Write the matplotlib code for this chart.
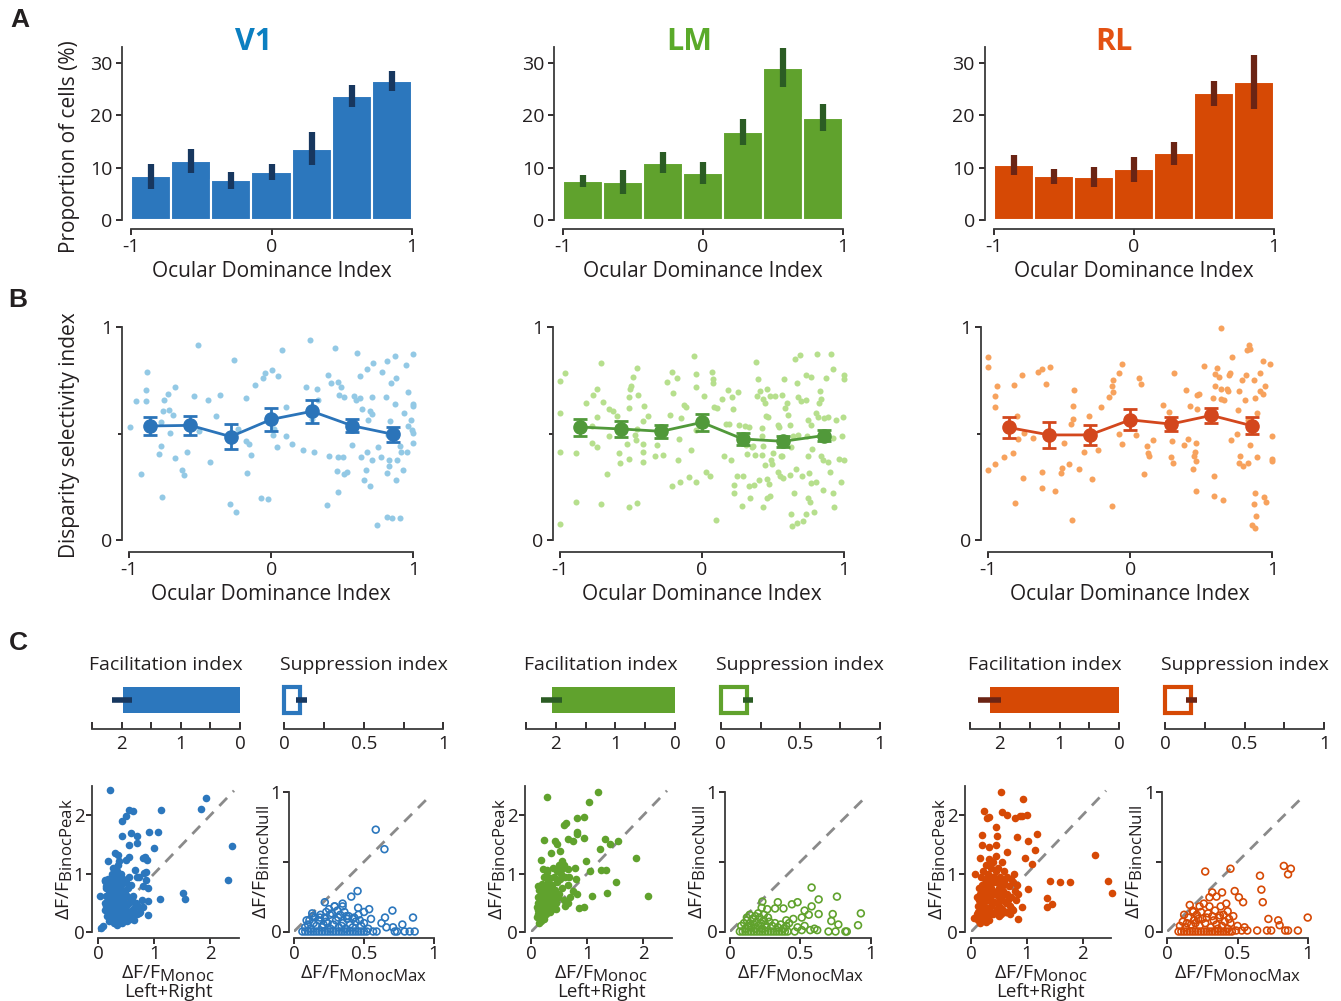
import numpy as np
import matplotlib
matplotlib.use('Agg')
import matplotlib.pyplot as plt
import matplotlib._mathtext as mathtext_internal

# subscripts in the figure are nearly full size
mathtext_internal.SHRINK_FACTOR = 0.86

plt.rcParams['font.family'] = ['Open Sans', 'DejaVu Sans']
plt.rcParams['mathtext.fontset'] = 'custom'
plt.rcParams['mathtext.rm'] = 'Open Sans'
plt.rcParams['mathtext.it'] = 'Open Sans:italic'
plt.rcParams['axes.unicode_minus'] = False
TXT = '#231f20'
plt.rcParams['text.color'] = TXT
plt.rcParams['axes.labelcolor'] = TXT
plt.rcParams['xtick.color'] = TXT
plt.rcParams['ytick.color'] = TXT
plt.rcParams['axes.edgecolor'] = '#3a3a3a'

# ---------------- data ----------------
areas = ['V1', 'LM', 'RL']
odi_centers = [-0.857, -0.571, -0.286, 0.0, 0.286, 0.571, 0.857]

# A: proportion of cells (%) per ODI bin, with error bar low/high
prop_v1 = [8.3, 11.2, 7.6, 9.1, 13.5, 23.6, 26.6]
prop_v1_lo = [6.0, 9.0, 6.0, 7.7, 10.4, 21.6, 24.7]
prop_v1_hi = [10.6, 13.5, 9.2, 10.6, 16.7, 25.7, 28.5]
prop_lm = [7.4, 7.2, 10.9, 8.9, 16.8, 29.0, 19.5]
prop_lm_lo = [6.2, 4.9, 9.0, 6.8, 14.4, 25.3, 17.0]
prop_lm_hi = [8.6, 9.6, 12.9, 11.0, 19.2, 32.8, 22.1]
prop_rl = [10.5, 8.4, 8.2, 9.7, 12.7, 24.2, 26.3]
prop_rl_lo = [8.6, 6.8, 6.3, 7.2, 10.5, 21.7, 21.2]
prop_rl_hi = [12.4, 9.8, 10.1, 12.1, 14.8, 26.5, 31.4]

# B: disparity selectivity index, binned means +- sem
dsi_mean_v1 = [0.536, 0.539, 0.486, 0.567, 0.605, 0.537, 0.497]
dsi_sem_v1 = [0.043, 0.045, 0.06, 0.055, 0.055, 0.03, 0.034]
dsi_mean_lm = [0.531, 0.522, 0.511, 0.553, 0.475, 0.464, 0.491]
dsi_sem_lm = [0.04, 0.038, 0.03, 0.04, 0.027, 0.026, 0.025]
dsi_mean_rl = [0.529, 0.494, 0.494, 0.565, 0.545, 0.586, 0.537]
dsi_sem_rl = [0.049, 0.06, 0.048, 0.049, 0.034, 0.035, 0.04]

# B: single cells (ODI, DSI)
cells_v1 = [
    (-0.995, 0.53), (-0.953, 0.653), (-0.873, 0.789), (-0.883, 0.703), (-0.883, 0.652), (-0.918, 0.309),
    (-0.777, 0.555), (-0.761, 0.605), (-0.768, 0.203), (-0.789, 0.405), (-0.775, 0.442), (-0.754, 0.656),
    (-0.725, 0.688), (-0.718, 0.609), (-0.711, 0.503), (-0.692, 0.586), (-0.676, 0.719), (-0.678, 0.384),
    (-0.631, 0.331), (-0.617, 0.305), (-0.592, 0.413), (-0.545, 0.675), (-0.519, 0.919), (-0.509, 0.511),
    (-0.444, 0.656), (-0.432, 0.369), (-0.392, 0.581), (-0.359, 0.684), (-0.289, 0.169), (-0.251, 0.131),
    (-0.265, 0.848), (-0.237, 0.523), (-0.181, 0.667), (-0.176, 0.466), (-0.155, 0.45), (-0.141, 0.4),
    (-0.171, 0.316), (-0.117, 0.727), (-0.073, 0.198), (-0.026, 0.194), (-0.061, 0.763), (-0.047, 0.784),
    (0.002, 0.8), (0.049, 0.769), (0.073, 0.894), (0.009, 0.492), (0.021, 0.523), (0.04, 0.436),
    (0.103, 0.625), (0.101, 0.488), (0.143, 0.453), (0.225, 0.425), (0.244, 0.72), (0.272, 0.938),
    (0.289, 0.57), (0.303, 0.414), (0.324, 0.708), (0.331, 0.656), (0.397, 0.775), (0.418, 0.736),
    (0.446, 0.902), (0.467, 0.745), (0.493, 0.72), (0.477, 0.684), (0.404, 0.395), (0.39, 0.166),
    (0.462, 0.323), (0.467, 0.225), (0.467, 0.389), (0.502, 0.388), (0.514, 0.308), (0.531, 0.319),
    (0.514, 0.67), (0.545, 0.534), (0.566, 0.445), (0.582, 0.678), (0.596, 0.656), (0.606, 0.877),
    (0.622, 0.769), (0.622, 0.667), (0.631, 0.388), (0.641, 0.614), (0.653, 0.281), (0.669, 0.328),
    (0.674, 0.414), (0.678, 0.566), (0.671, 0.806), (0.697, 0.253), (0.695, 0.605), (0.707, 0.672),
    (0.709, 0.375), (0.709, 0.594), (0.714, 0.834), (0.746, 0.07), (0.754, 0.438), (0.772, 0.391),
    (0.782, 0.789), (0.805, 0.672), (0.812, 0.842), (0.812, 0.317), (0.812, 0.109), (0.819, 0.492),
    (0.831, 0.375), (0.831, 0.348), (0.836, 0.559), (0.84, 0.739), (0.847, 0.102), (0.869, 0.866),
    (0.873, 0.641), (0.878, 0.763), (0.876, 0.28), (0.887, 0.378), (0.904, 0.441), (0.906, 0.103),
    (0.913, 0.414), (0.93, 0.331), (0.937, 0.595), (0.951, 0.823), (0.958, 0.414), (0.962, 0.695),
    (0.965, 0.536), (0.981, 0.566), (0.988, 0.516), (0.995, 0.458), (1.0, 0.873), (1.0, 0.641),
    (1.0, 0.628), (1.0, 0.503),
]
cells_lm = [
    (-1.0, 0.747), (-0.965, 0.786), (-1.0, 0.597), (-1.0, 0.412), (-1.0, 0.075), (-0.887, 0.409),
    (-0.887, 0.178), (-0.714, 0.833), (-0.742, 0.711), (-0.77, 0.684), (-0.819, 0.645), (-0.777, 0.538),
    (-0.777, 0.456), (-0.737, 0.436), (-0.737, 0.579), (-0.7, 0.648), (-0.714, 0.17), (-0.671, 0.311),
    (-0.657, 0.618), (-0.624, 0.605), (-0.596, 0.585), (-0.653, 0.491), (-0.582, 0.409), (-0.577, 0.362),
    (-0.526, 0.453), (-0.514, 0.382), (-0.512, 0.157), (-0.458, 0.173), (-0.512, 0.621), (-0.512, 0.673),
    (-0.507, 0.711), (-0.502, 0.723), (-0.484, 0.766), (-0.455, 0.81), (-0.448, 0.684), (-0.469, 0.495),
    (-0.465, 0.469), (-0.46, 0.522), (-0.413, 0.451), (-0.413, 0.412), (-0.413, 0.369), (-0.418, 0.561),
    (-0.411, 0.632), (-0.383, 0.582), (-0.331, 0.393), (-0.319, 0.448), (-0.272, 0.398), (-0.249, 0.742),
    (-0.211, 0.789), (-0.174, 0.763), (-0.202, 0.689), (-0.225, 0.59), (-0.214, 0.256), (-0.155, 0.275),
    (-0.171, 0.377), (-0.15, 0.574), (-0.16, 0.475), (-0.127, 0.637), (-0.115, 0.626), (-0.077, 0.425),
    (-0.089, 0.294), (-0.054, 0.865), (-0.045, 0.781), (-0.045, 0.72), (-0.045, 0.275), (-0.045, 0.516),
    (0.014, 0.679), (0.068, 0.791), (0.077, 0.755), (0.077, 0.736), (0.026, 0.318), (0.056, 0.299),
    (0.096, 0.094), (0.087, 0.624), (0.103, 0.621), (0.138, 0.664), (0.181, 0.703), (0.214, 0.673),
    (0.251, 0.697), (0.216, 0.616), (0.169, 0.547), (0.192, 0.547), (0.155, 0.393), (0.202, 0.374),
    (0.228, 0.259), (0.228, 0.223), (0.244, 0.303), (0.286, 0.303), (0.279, 0.162), (0.263, 0.542),
    (0.303, 0.535), (0.333, 0.531), (0.315, 0.406), (0.333, 0.255), (0.338, 0.197), (0.369, 0.259),
    (0.38, 0.838), (0.392, 0.758), (0.385, 0.676), (0.408, 0.7), (0.427, 0.664), (0.444, 0.642),
    (0.46, 0.712), (0.479, 0.679), (0.451, 0.585), (0.467, 0.579), (0.42, 0.527), (0.42, 0.487),
    (0.427, 0.44), (0.42, 0.401), (0.444, 0.354), (0.404, 0.283), (0.455, 0.286), (0.474, 0.264),
    (0.486, 0.377), (0.502, 0.409), (0.495, 0.357), (0.455, 0.197), (0.479, 0.208), (0.427, 0.153),
    (0.514, 0.676), (0.561, 0.684), (0.577, 0.755), (0.596, 0.642), (0.585, 0.621), (0.608, 0.59),
    (0.538, 0.542), (0.545, 0.531), (0.62, 0.542), (0.554, 0.393), (0.538, 0.322), (0.549, 0.299),
    (0.62, 0.307), (0.662, 0.333), (0.65, 0.223), (0.627, 0.123), (0.636, 0.066), (0.667, 0.079),
    (0.709, 0.091), (0.732, 0.121), (0.789, 0.13), (0.749, 0.197), (0.761, 0.178), (0.704, 0.302),
    (0.754, 0.314), (0.765, 0.267), (0.803, 0.275), (0.85, 0.236), (0.92, 0.223), (0.93, 0.154),
    (0.901, 0.322), (0.977, 0.275), (0.655, 0.849), (0.69, 0.868), (0.808, 0.873), (0.906, 0.873),
    (0.92, 0.805), (0.873, 0.763), (0.732, 0.778), (0.765, 0.767), (0.671, 0.736), (0.678, 0.673),
    (0.695, 0.653), (0.732, 0.657), (0.831, 0.7), (0.836, 0.664), (0.826, 0.645), (0.803, 0.597),
    (0.819, 0.579), (0.859, 0.574), (0.89, 0.579), (0.944, 0.563), (0.995, 0.579), (1.0, 0.778),
    (1.0, 0.755), (0.749, 0.566), (0.765, 0.542), (0.737, 0.487), (0.772, 0.428), (0.749, 0.393),
    (0.836, 0.396), (0.854, 0.374), (0.89, 0.369), (0.967, 0.381), (1.0, 0.377), (0.984, 0.487),
    (0.92, 0.48), (0.678, 0.495), (0.638, 0.487), (0.627, 0.437), (0.561, 0.393), (0.35, 0.437),
    (0.373, 0.401), (0.362, 0.44), (0.31, 0.448), (0.573, 0.291),
]
cells_rl = [
    (-1.0, 0.86), (-1.0, 0.812), (-1.0, 0.328), (-0.951, 0.675), (-0.951, 0.623), (-0.951, 0.356),
    (-0.937, 0.724), (-0.892, 0.388), (-0.822, 0.728), (-0.815, 0.173), (-0.8, 0.584), (-0.793, 0.474),
    (-0.829, 0.407), (-0.763, 0.777), (-0.758, 0.29), (-0.749, 0.502), (-0.683, 0.479), (-0.653, 0.788),
    (-0.62, 0.804), (-0.563, 0.813), (-0.594, 0.733), (-0.622, 0.319), (-0.62, 0.243), (-0.531, 0.232),
    (-0.491, 0.316), (-0.479, 0.338), (-0.465, 0.458), (-0.43, 0.358), (-0.411, 0.096), (-0.404, 0.631),
    (-0.399, 0.703), (-0.406, 0.568), (-0.42, 0.546), (-0.359, 0.333), (-0.326, 0.414), (-0.291, 0.584),
    (-0.272, 0.289), (-0.225, 0.424), (-0.204, 0.626), (-0.15, 0.672), (-0.131, 0.16), (-0.129, 0.722),
    (-0.124, 0.754), (-0.122, 0.697), (-0.08, 0.499), (-0.077, 0.785), (-0.056, 0.829), (-0.056, 0.451),
    (0.04, 0.496), (0.061, 0.763), (0.075, 0.733), (0.096, 0.312), (0.115, 0.444), (0.122, 0.411),
    (0.134, 0.396), (0.162, 0.468), (0.232, 0.634), (0.275, 0.604), (0.286, 0.388), (0.303, 0.361),
    (0.305, 0.785), (0.296, 0.466), (0.38, 0.447), (0.392, 0.706), (0.404, 0.474), (0.42, 0.631),
    (0.441, 0.336), (0.451, 0.397), (0.455, 0.416), (0.462, 0.231), (0.462, 0.455), (0.46, 0.37),
    (0.472, 0.615), (0.467, 0.684), (0.486, 0.686), (0.521, 0.818), (0.582, 0.667), (0.587, 0.303),
    (0.587, 0.209), (0.596, 0.779), (0.599, 0.725), (0.608, 0.807), (0.622, 0.766), (0.638, 0.662),
    (0.638, 0.71), (0.641, 0.998), (0.655, 0.187), (0.66, 0.656), (0.681, 0.71), (0.688, 0.7),
    (0.697, 0.776), (0.718, 0.86), (0.707, 0.468), (0.702, 0.785), (0.754, 0.498), (0.761, 0.611),
    (0.768, 0.699), (0.772, 0.396), (0.763, 0.361), (0.784, 0.754), (0.796, 0.349), (0.815, 0.776),
    (0.81, 0.656), (0.819, 0.892), (0.829, 0.364), (0.829, 0.565), (0.833, 0.915), (0.84, 0.9),
    (0.845, 0.447), (0.857, 0.071), (0.876, 0.055), (0.873, 0.17), (0.876, 0.223), (0.878, 0.666),
    (0.892, 0.391), (0.892, 0.595), (0.871, 0.75), (0.887, 0.115), (0.913, 0.785), (0.915, 0.699),
    (0.934, 0.686), (0.932, 0.843), (0.939, 0.203), (0.951, 0.722), (0.953, 0.179), (0.986, 0.827),
    (0.995, 0.487), (0.995, 0.38), (1.0, 0.371),
]

# C: facilitation / suppression index (bar value, error low, error high)
facil = {'V1': (1.98, 1.82, 2.16), 'LM': (2.06, 1.90, 2.24), 'RL': (2.17, 1.98, 2.37)}
suppr = {'V1': (0.10, 0.075, 0.14), 'LM': (0.167, 0.142, 0.205), 'RL': (0.161, 0.13, 0.20)}

# C: dF/F monoc (left+right) vs binoc peak
peak_v1 = [
    (0.22, 2.43), (1.93, 2.29), (1.84, 2.1), (1.12, 2.09), (0.55, 2.09), (0.62, 2.08), (0.43, 1.9),
    (0.49, 1.98), (0.43, 1.64), (0.58, 1.7), (0.7, 1.65), (0.7, 1.53), (0.56, 1.49), (0.9, 1.71),
    (1.07, 1.71), (0.99, 1.43), (2.38, 1.48), (2.31, 0.89), (1.51, 0.67), (1.54, 0.57), (1.1, 0.57),
    (0.89, 0.53), (0.89, 0.29), (0.8, 0.43), (0.73, 0.32), (0.83, 1.29), (0.87, 1.24), (0.8, 1.26),
    (0.65, 1.06), (0.55, 1.29), (0.5, 1.24), (0.36, 1.32), (0.31, 1.35), (0.17, 1.21), (0.86, 1.03),
    (0.81, 1.01), (0.73, 0.95), (0.7, 0.94), (0.86, 0.89), (0.8, 0.78), (0.89, 0.75), (0.09, 0.11),
    (0.06, 0.06), (0.03, 0.61), (0.12, 0.89), (0.15, 0.78), (0.39, 0.17),
    (0.15, 0.62), (0.18, 0.55), (0.2, 0.48), (0.22, 0.4), (0.25, 0.35), (0.28, 0.3), (0.3, 0.45),
    (0.32, 0.52), (0.35, 0.6), (0.38, 0.68), (0.4, 0.75), (0.42, 0.82), (0.45, 0.9), (0.3, 0.95),
    (0.33, 1.05), (0.27, 0.85), (0.24, 0.72), (0.2, 0.8), (0.18, 0.9), (0.22, 0.25), (0.26, 0.2),
    (0.3, 0.22), (0.35, 0.28), (0.4, 0.33), (0.45, 0.4), (0.5, 0.45), (0.55, 0.5), (0.6, 0.55),
    (0.52, 0.62), (0.48, 0.7), (0.44, 0.58), (0.37, 0.42), (0.34, 0.36), (0.29, 0.38), (0.25, 0.5),
    (0.21, 0.6), (0.17, 0.35), (0.14, 0.45), (0.12, 0.5), (0.28, 0.65), (0.31, 0.72), (0.36, 0.8),
    (0.39, 0.9), (0.41, 1.0), (0.35, 1.15), (0.38, 1.22), (0.3, 1.1), (0.25, 1.0), (0.23, 0.92),
    (0.46, 0.25), (0.5, 0.3), (0.55, 0.35), (0.6, 0.38), (0.65, 0.42), (0.7, 0.3), (0.75, 0.35),
    (0.62, 0.28), (0.57, 0.22), (0.43, 0.15), (0.33, 0.12), (0.28, 0.15), (0.2, 0.18), (0.16, 0.28),
    (0.12, 0.38), (0.42, 0.48), (0.47, 0.52), (0.39, 0.55), (0.33, 0.58), (0.27, 0.55), (0.19, 0.7),
    (0.15, 0.75), (0.13, 0.88), (0.26, 0.42), (0.31, 0.3), (0.36, 0.5), (0.41, 0.62), (0.46, 0.65),
    (0.53, 0.75), (0.58, 0.8), (0.63, 0.62), (0.68, 0.5), (0.72, 0.45), (0.78, 0.55), (0.24, 0.58),
    (0.29, 0.78), (0.34, 0.88), (0.4, 0.42), (0.44, 0.35), (0.37, 0.2), (0.51, 0.18), (0.64, 0.2),
    (0.22, 0.32), (0.18, 0.42), (0.32, 0.98), (0.37, 0.3), (0.43, 0.72), (0.49, 0.85), (0.55, 0.95),
    (0.26, 1.1), (0.2, 0.52),
]
peak_lm = [
    (0.28, 2.32), (1.19, 2.4), (1.03, 2.23), (0.82, 1.95), (0.95, 1.97), (0.58, 1.84), (0.62, 1.87),
    (0.24, 1.58), (0.65, 1.6), (0.74, 1.56), (0.82, 1.72), (0.82, 1.67), (0.95, 1.61), (0.43, 1.55),
    (0.47, 1.51), (1.32, 1.6), (1.54, 1.55), (1.41, 1.51), (1.22, 1.42), (0.17, 1.23), (0.36, 1.36),
    (0.52, 1.38), (0.97, 1.22), (1.86, 1.26), (2.09, 0.61), (1.51, 0.85), (1.35, 0.67), (1.09, 0.62),
    (1.25, 1.07), (1.33, 1.07), (1.05, 1.05), (0.78, 1.09), (0.95, 0.42), (0.86, 0.41), (0.81, 0.65),
    (0.66, 0.5), (0.61, 0.44), (0.58, 1.15), (0.56, 1.22), (0.5, 1.14), (0.65, 1.08), (0.22, 1.08),
    (0.28, 1.06), (0.13, 0.78),
    (0.1, 0.25), (0.12, 0.3), (0.13, 0.38), (0.15, 0.45), (0.16, 0.2), (0.17, 0.55), (0.18, 0.35),
    (0.2, 0.28), (0.2, 0.62), (0.22, 0.4), (0.22, 0.7), (0.24, 0.5), (0.25, 0.32), (0.26, 0.78),
    (0.27, 0.58), (0.28, 0.42), (0.3, 0.85), (0.3, 0.65), (0.32, 0.48), (0.33, 0.92), (0.34, 0.7),
    (0.35, 0.55), (0.36, 0.38), (0.38, 0.8), (0.4, 0.62), (0.41, 0.95), (0.43, 0.72), (0.45, 0.5),
    (0.47, 0.85), (0.5, 0.65), (0.52, 0.9), (0.55, 0.75), (0.58, 0.55), (0.6, 0.95), (0.62, 0.48),
    (0.65, 0.8), (0.7, 0.6), (0.14, 0.15), (0.18, 0.18), (0.23, 0.22), (0.12, 0.6), (0.15, 0.72),
    (0.19, 0.82), (0.24, 0.95), (0.28, 1.02), (0.11, 0.42), (0.21, 0.5), (0.26, 0.45), (0.31, 0.58),
    (0.37, 0.65), (0.42, 0.55), (0.48, 0.6), (0.53, 1.0), (0.57, 1.1), (0.46, 1.05), (0.39, 1.1),
    (0.13, 0.5), (0.17, 0.62), (0.27, 0.3), (0.35, 0.8), (0.44, 0.4), (0.16, 0.28), (0.2, 0.38),
    (0.25, 0.6), (0.29, 0.72), (0.33, 0.35), (0.4, 0.45), (0.68, 0.95), (0.75, 0.7), (0.8, 0.9),
]
peak_rl = [
    (0.54, 2.39), (0.94, 2.27), (0.23, 2.07), (0.28, 1.96), (0.33, 1.97), (0.55, 2.05), (0.65, 2.0),
    (0.78, 1.96), (0.87, 1.99), (1.0, 2.01), (0.92, 1.98), (0.45, 1.79), (0.2, 1.66), (0.47, 1.65),
    (0.83, 1.62), (1.19, 1.67), (1.03, 1.55), (0.2, 1.49), (0.45, 1.49), (0.33, 1.45), (0.64, 1.37),
    (1.15, 1.4), (0.16, 1.26), (0.97, 1.26), (1.1, 1.17), (0.07, 1.0), (0.36, 1.21), (2.23, 1.32),
    (2.45, 0.88), (2.52, 0.66), (1.77, 0.85), (1.59, 0.86), (1.41, 0.88), (1.36, 0.58), (1.46, 0.48),
    (1.36, 0.42), (1.03, 0.73), (0.91, 0.43), (0.85, 0.22), (0.76, 0.38), (0.63, 0.34), (0.27, 0.17),
    (0.05, 0.24),
    (0.1, 0.3), (0.12, 0.45), (0.14, 0.55), (0.15, 0.25), (0.16, 0.65), (0.18, 0.38), (0.2, 0.5),
    (0.2, 0.8), (0.22, 0.3), (0.23, 0.6), (0.25, 0.42), (0.25, 0.9), (0.27, 0.7), (0.28, 0.25),
    (0.3, 0.55), (0.3, 1.0), (0.32, 0.38), (0.33, 0.8), (0.35, 0.62), (0.36, 0.45), (0.38, 0.95),
    (0.4, 0.3), (0.4, 0.7), (0.42, 0.52), (0.44, 1.05), (0.45, 0.85), (0.46, 0.4), (0.48, 0.62),
    (0.5, 0.75), (0.5, 0.28), (0.52, 0.95), (0.55, 0.55), (0.56, 0.4), (0.58, 0.7), (0.6, 0.85),
    (0.62, 0.5), (0.65, 0.65), (0.68, 0.78), (0.7, 0.45), (0.72, 0.6), (0.75, 0.85), (0.78, 0.7),
    (0.8, 0.55), (0.12, 0.2), (0.17, 0.15), (0.21, 0.2), (0.26, 0.18), (0.33, 0.2), (0.14, 0.75),
    (0.18, 0.95), (0.22, 1.05), (0.27, 1.15), (0.35, 1.1), (0.4, 1.2), (0.48, 1.1), (0.55, 1.2),
    (0.6, 1.05), (0.65, 0.95), (0.31, 0.68), (0.37, 0.52), (0.43, 0.35), (0.47, 0.5), (0.53, 0.65),
    (0.57, 0.8), (0.63, 0.35), (0.69, 0.3), (0.74, 0.4), (0.29, 0.4), (0.24, 0.52), (0.19, 0.6),
    (0.16, 0.45), (0.13, 0.35), (0.11, 0.6), (0.34, 0.3), (0.39, 0.85), (0.44, 0.65), (0.51, 0.45),
    (0.58, 0.35), (0.66, 0.55), (0.71, 0.9), (0.77, 1.0), (0.82, 0.8), (0.85, 0.65), (0.3, 0.9),
    (0.36, 0.75), (0.42, 0.95), (0.49, 0.85), (0.54, 0.3), (0.61, 0.65), (0.2, 0.7), (0.26, 0.8),
    (0.32, 1.25), (0.45, 1.3),
]

# C: dF/F monoc max vs binoc null
null_v1 = [
    (0.584, 0.73), (0.646, 0.59), (0.454, 0.29), (0.409, 0.25), (0.347, 0.2), (0.347, 0.18),
    (0.29, 0.18), (0.22, 0.21), (0.23, 0.14), (0.458, 0.17), (0.5, 0.14), (0.537, 0.16),
    (0.703, 0.15), (0.85, 0.1), (0.65, 0.1), (0.625, 0.06), (0.707, 0.03), (0.774, 0.05),
    (0.565, 0.0), (0.862, 0.0), (0.826, 0.0), (0.79, 0.0), (0.736, 0.0), (0.72, 0.0), (0.59, 0.0),
    (0.52, 0.0), (0.66, 0.03), (0.42, 0.09), (0.375, 0.11), (0.316, 0.1), (0.257, 0.12),
    (0.185, 0.1), (0.133, 0.11), (0.09, 0.08),
    (0.06, 0.0), (0.08, 0.0), (0.1, 0.0), (0.12, 0.0), (0.14, 0.0), (0.16, 0.0), (0.18, 0.0),
    (0.2, 0.0), (0.22, 0.0), (0.24, 0.0), (0.26, 0.0), (0.28, 0.0), (0.3, 0.0), (0.32, 0.0),
    (0.34, 0.0), (0.36, 0.0), (0.38, 0.0), (0.4, 0.0), (0.42, 0.0), (0.44, 0.0), (0.46, 0.0),
    (0.48, 0.0), (0.5, 0.0),
    (0.08, 0.03), (0.1, 0.05), (0.12, 0.02), (0.14, 0.06), (0.16, 0.04), (0.18, 0.08), (0.2, 0.03),
    (0.22, 0.1), (0.24, 0.06), (0.26, 0.02), (0.27, 0.13), (0.28, 0.05), (0.3, 0.08), (0.32, 0.03),
    (0.33, 0.12), (0.35, 0.06), (0.37, 0.02), (0.38, 0.09), (0.4, 0.05), (0.42, 0.03), (0.44, 0.07),
    (0.46, 0.12), (0.48, 0.04), (0.5, 0.06), (0.53, 0.02), (0.25, 0.16), (0.29, 0.18), (0.31, 0.15),
    (0.36, 0.14), (0.23, 0.07), (0.19, 0.12), (0.15, 0.1), (0.11, 0.08), (0.13, 0.13), (0.21, 0.05),
    (0.34, 0.04), (0.39, 0.11), (0.43, 0.1), (0.47, 0.08), (0.55, 0.09),
]
null_lm = [
    (0.58, 0.315), (0.76, 0.25), (0.63, 0.23), (0.48, 0.21), (0.44, 0.195), (0.34, 0.21),
    (0.23, 0.215), (0.225, 0.17), (0.265, 0.16), (0.32, 0.165), (0.38, 0.165), (0.53, 0.15),
    (0.58, 0.18), (0.63, 0.125), (0.73, 0.125), (0.93, 0.13), (0.91, 0.045), (0.77, 0.05),
    (0.72, 0.075), (0.56, 0.12), (0.51, 0.1), (0.45, 0.09), (0.4, 0.08), (0.14, 0.12), (0.7, 0.0),
    (0.75, 0.0), (0.82, 0.0), (0.83, 0.0), (0.62, 0.01), (0.57, 0.01), (0.51, 0.01), (0.46, 0.0),
    (0.07, 0.0), (0.09, 0.0), (0.11, 0.0), (0.13, 0.0), (0.15, 0.0), (0.17, 0.0), (0.19, 0.0),
    (0.21, 0.0), (0.23, 0.0), (0.25, 0.0), (0.27, 0.0), (0.29, 0.0), (0.31, 0.0), (0.33, 0.0),
    (0.35, 0.0), (0.37, 0.0), (0.39, 0.0), (0.41, 0.0),
    (0.08, 0.04), (0.1, 0.06), (0.11, 0.02), (0.12, 0.08), (0.13, 0.04), (0.14, 0.06), (0.15, 0.03),
    (0.16, 0.09), (0.17, 0.05), (0.18, 0.02), (0.19, 0.07), (0.2, 0.04), (0.21, 0.1), (0.22, 0.06),
    (0.23, 0.02), (0.24, 0.08), (0.25, 0.05), (0.26, 0.03), (0.28, 0.07), (0.3, 0.04), (0.32, 0.06),
    (0.34, 0.03), (0.36, 0.05), (0.38, 0.02), (0.4, 0.04), (0.42, 0.06), (0.2, 0.13), (0.24, 0.12),
    (0.18, 0.11), (0.27, 0.1), (0.12, 0.1), (0.48, 0.03), (0.53, 0.04), (0.6, 0.02),
]
null_rl = [
    (0.27, 0.43), (0.45, 0.45), (0.83, 0.47), (0.88, 0.45), (0.86, 0.41), (0.66, 0.4), (0.67, 0.3),
    (0.48, 0.29), (0.32, 0.28), (0.39, 0.28), (0.35, 0.25), (0.3, 0.245), (0.51, 0.245), (0.54, 0.21),
    (0.42, 0.2), (0.16, 0.19), (0.23, 0.18), (0.3, 0.18), (0.43, 0.145), (0.68, 0.21), (0.72, 0.09),
    (0.79, 0.08), (1.0, 0.1), (0.8, 0.045), (0.93, 0.007), (0.84, 0.007), (0.86, 0.007), (0.74, 0.007),
    (0.71, 0.007), (0.64, 0.007), (0.57, 0.007), (0.53, 0.007), (0.49, 0.007), (0.44, 0.09),
    (0.375, 0.115), (0.185, 0.14),
    (0.08, 0.0), (0.1, 0.0), (0.12, 0.0), (0.14, 0.0), (0.16, 0.0), (0.18, 0.0), (0.2, 0.0),
    (0.22, 0.0), (0.24, 0.0), (0.26, 0.0), (0.28, 0.0), (0.3, 0.0), (0.32, 0.0), (0.34, 0.0),
    (0.36, 0.0), (0.38, 0.0), (0.4, 0.0), (0.42, 0.0), (0.44, 0.0), (0.46, 0.0),
    (0.09, 0.04), (0.11, 0.07), (0.13, 0.03), (0.15, 0.1), (0.17, 0.05), (0.19, 0.08), (0.21, 0.12),
    (0.23, 0.04), (0.25, 0.09), (0.27, 0.06), (0.29, 0.13), (0.31, 0.03), (0.33, 0.08), (0.35, 0.05),
    (0.37, 0.1), (0.39, 0.04), (0.41, 0.07), (0.43, 0.02), (0.45, 0.06), (0.47, 0.11), (0.5, 0.04),
    (0.12, 0.12), (0.18, 0.15), (0.24, 0.14), (0.28, 0.1), (0.34, 0.15), (0.38, 0.18), (0.26, 0.2),
    (0.2, 0.06), (0.14, 0.06), (0.32, 0.11), (0.4, 0.12), (0.36, 0.02), (0.22, 0.09), (0.55, 0.03),
]

colors = {
    'V1': dict(bar='#2c77bd', dark='#17375f', light='#93c9e5', mean='#2b74b9', title='#0b7fc1'),
    'LM': dict(bar='#60a22d', dark='#2b5c24', light='#b6df8d', mean='#51993a', title='#5aaa2a'),
    'RL': dict(bar='#d64905', dark='#6b2414', light='#f7a25d', mean='#d3471d', title='#e35113'),
}
props = {'V1': (prop_v1, prop_v1_lo, prop_v1_hi), 'LM': (prop_lm, prop_lm_lo, prop_lm_hi),
         'RL': (prop_rl, prop_rl_lo, prop_rl_hi)}
dsi = {'V1': (dsi_mean_v1, dsi_sem_v1, cells_v1), 'LM': (dsi_mean_lm, dsi_sem_lm, cells_lm),
       'RL': (dsi_mean_rl, dsi_sem_rl, cells_rl)}
peaks = {'V1': peak_v1, 'LM': peak_lm, 'RL': peak_rl}
nulls = {'V1': null_v1, 'LM': null_lm, 'RL': null_rl}

# ---------------- layout (pixels) ----------------
W, H = 1341, 1001
fig = plt.figure(figsize=(W / 100, H / 100), dpi=100)

def add_ax(left, right, bottom, top):
    return fig.add_axes([left / W, 1 - bottom / H, (right - left) / W, (bottom - top) / H])

def px2pt(p):
    return p * 0.72

pos_a = {'V1': (131, 412), 'LM': (563, 843), 'RL': (993.5, 1274)}
title_x = {'V1': 254, 'LM': 689, 'RL': 1114}
pos_b = {'V1': (129.3, 413.3), 'LM': (560, 844), 'RL': (988.3, 1272.3)}
pos_fac = {'V1': (92, 240), 'LM': (525.7, 675.3), 'RL': (970, 1119.3)}
pos_sup = {'V1': (284.3, 443.3), 'LM': (720.7, 880), 'RL': (1165, 1324.3)}
pos_s1 = {'V1': (98, 238.5), 'LM': (531, 671.5), 'RL': (971, 1110.5)}
pos_s2 = {'V1': (294, 434), 'LM': (730, 870.7), 'RL': (1167.3, 1307.7)}

TICK = 14
LAB = 15

def style(ax, left_off, bottom_off):
    for s in ['top', 'right']:
        ax.spines[s].set_visible(False)
    ax.spines['left'].set_position(('outward', px2pt(left_off)))
    ax.spines['bottom'].set_position(('outward', px2pt(bottom_off)))
    for s in ['left', 'bottom']:
        ax.spines[s].set_linewidth(1.3)
    ax.tick_params(labelsize=TICK, width=1.3, length=4, pad=3)
    ax.patch.set_visible(False)

for area in areas:
    c = colors[area]

    # ---- A ----
    x0, x1 = pos_a[area]
    ax = add_ax(x0, x1, 220, 47)
    vals, lo, hi = props[area]
    ax.bar(odi_centers, vals, width=2 / 7, color=c['bar'], edgecolor='white', linewidth=1.5)
    vals = np.array(vals)
    ax.errorbar(odi_centers, vals, yerr=[vals - np.array(lo), np.array(hi) - vals], fmt='none',
                ecolor=c['dark'], elinewidth=4.5, capsize=0)
    ax.set_xlim(-1, 1)
    ax.set_ylim(0, 33)
    ax.set_yticks([0, 10, 20, 30])
    ax.set_xticks([-1, 0, 1])
    ax.set_xticklabels(['-1', '0', '1'])
    style(ax, 9, 8.7)
    ax.set_xlabel('Ocular Dominance Index', fontsize=LAB, labelpad=3)
    fig.text(title_x[area] / W, 1 - 42 / H, area, color=c['title'], fontsize=22,
             fontweight='bold', ha='center', va='center')
    if area == 'V1':
        fig.text(70 / W, 1 - 147 / H, 'Proportion of cells (%)', rotation=90, fontsize=LAB,
                 ha='center', va='center')

    # ---- B ----
    x0, x1 = pos_b[area]
    ax = add_ax(x0, x1, 540, 327.3)
    means, sems, cells = dsi[area]
    cells = np.array(cells)
    ax.scatter(cells[:, 0], cells[:, 1], s=19, color=c['light'], linewidths=0, clip_on=False, zorder=2)
    ax.errorbar(odi_centers, means, yerr=sems, fmt='-o', color=c['mean'], ms=9.5, lw=2,
                elinewidth=2, capsize=5, capthick=2, zorder=3, clip_on=False)
    ax.set_xlim(-1, 1)
    ax.set_ylim(0, 1)
    ax.set_yticks([0, 1])
    ax.set_yticks([0.5], minor=True)
    ax.set_xticks([-1, 0, 1])
    ax.set_xticklabels(['-1', '0', '1'])
    style(ax, 7, 11.7)
    ax.tick_params(which='minor', length=3, width=1.3)
    ax.set_xlabel('Ocular Dominance Index', fontsize=LAB, labelpad=3)
    if area == 'V1':
        fig.text(70 / W, 1 - 435 / H, 'Disparity selectivity index', rotation=90, fontsize=LAB,
                 ha='center', va='center')

    # ---- C: facilitation bar ----
    x0, x1 = pos_fac[area]
    ax = add_ax(x0, x1, 729.3, 680)
    v, elo, ehi = facil[area]
    ax.barh(0.604, v, height=0.528, left=0, color=c['bar'])
    ax.plot([elo, ehi], [0.604, 0.604], color=c['dark'], lw=4, solid_capstyle='butt')
    ax.set_xlim(2.5, 0)
    ax.set_ylim(0, 1)
    for s in ['top', 'right', 'left']:
        ax.spines[s].set_visible(False)
    ax.spines['bottom'].set_linewidth(1.3)
    ax.set_yticks([])
    ax.set_xticks([2, 1, 0])
    ax.set_xticks([2.5, 1.5, 0.5], minor=True)
    ax.tick_params(which='both', direction='in', length=5, width=1.3, labelsize=TICK - 0.5, pad=4)
    ax.patch.set_visible(False)
    fig.text((x0 + x1) / 2 / W, 1 - 665 / H, 'Facilitation index', fontsize=14,
             ha='center', va='center')

    # ---- C: suppression bar ----
    x0, x1 = pos_sup[area]
    ax = add_ax(x0, x1, 729.3, 680)
    v, elo, ehi = suppr[area]
    ax.barh(0.604, v, height=0.528, left=0, facecolor='white', edgecolor=c['bar'],
            linewidth=3, clip_on=False)
    ax.plot([elo, ehi], [0.604, 0.604], color=c['dark'], lw=4, solid_capstyle='butt')
    ax.set_xlim(0, 1)
    ax.set_ylim(0, 1)
    for s in ['top', 'right', 'left']:
        ax.spines[s].set_visible(False)
    ax.spines['bottom'].set_linewidth(1.3)
    ax.set_yticks([])
    ax.set_xticks([0, 0.5, 1])
    ax.set_xticklabels(['0', '0.5', '1'])
    ax.set_xticks([0.25, 0.75], minor=True)
    ax.tick_params(which='both', direction='in', length=5, width=1.3, labelsize=TICK - 0.5, pad=4)
    ax.patch.set_visible(False)
    fig.text((x0 + x1) / 2 / W, 1 - 665 / H, 'Suppression index', fontsize=14,
             ha='center', va='center')

    # ---- C: peak scatter ----
    x0, x1 = pos_s1[area]
    ax = add_ax(x0, x1, 932, 786)
    pts = np.array(peaks[area])
    ax.plot([0, 2.42], [0, 2.42], ls=(0, (4, 3)), color='#8a8a8a', lw=2, zorder=1)
    ax.scatter(pts[:, 0], pts[:, 1], s=30, color=c['bar'], linewidths=0, zorder=2, clip_on=False)
    ax.set_xlim(0, 2.5)
    ax.set_ylim(0, 2.5)
    ax.set_xticks([0, 1, 2])
    ax.set_yticks([0, 1, 2])
    style(ax, 6, 5.7)
    ax.tick_params(labelsize=TICK - 0.5, pad=1.5)
    ax.set_xlabel('ΔF/F$_{\\mathrm{Monoc}}$', fontsize=14, labelpad=0)
    ax.annotate('Left+Right', xy=(0.5, 0), xycoords=ax.xaxis.label, xytext=(0, 0.5),
                textcoords='offset points', ha='center', va='top', fontsize=13.5)
    ax.set_ylabel('ΔF/F$_{\\mathrm{BinocPeak}}$', fontsize=14, labelpad=0)

    # ---- C: null scatter ----
    x0, x1 = pos_s2[area]
    ax = add_ax(x0, x1, 931.5, 792)
    pts = np.array(nulls[area])
    ax.plot([0, 0.98], [0, 0.98], ls=(0, (4, 3)), color='#8a8a8a', lw=2, zorder=1)
    ax.scatter(pts[:, 0], pts[:, 1], s=24, facecolors='none', edgecolors=c['bar'], linewidths=1.2,
               zorder=2, clip_on=False)
    ax.set_xlim(0, 1)
    ax.set_ylim(0, 1)
    ax.set_xticks([0, 0.5, 1])
    ax.set_xticklabels(['0', '0.5', '1'])
    ax.set_yticks([0, 1])
    ax.set_yticks([0.5], minor=True)
    style(ax, 5, 6)
    ax.tick_params(labelsize=TICK - 0.5, pad=1.5)
    ax.tick_params(which='minor', length=4, width=1.3)
    ax.set_xlabel('ΔF/F$_{\\mathrm{MonocMax}}$', fontsize=14, labelpad=0)
    ax.set_ylabel('ΔF/F$_{\\mathrm{BinocNull}}$', fontsize=14, labelpad=0)

for letter, (lx, ly) in {'A': (20, 20), 'B': (18, 300), 'C': (18, 643)}.items():
    fig.text(lx / W, 1 - ly / H, letter, fontsize=19, fontweight='bold', family='Liberation Sans',
             ha='center', va='center')

fig.savefig('out.png', dpi=100)
